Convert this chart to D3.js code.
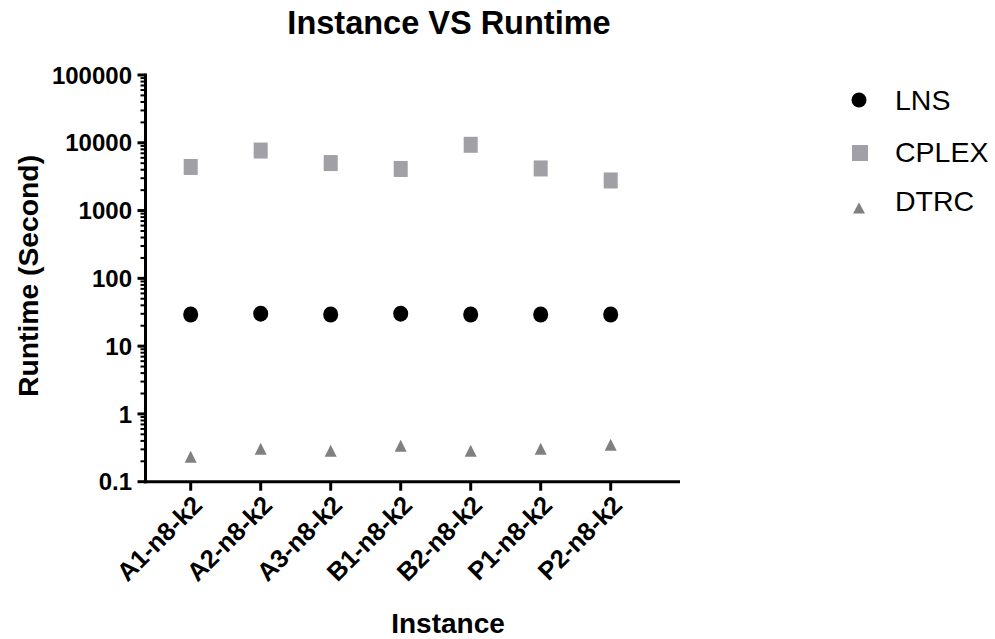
<!DOCTYPE html>
<html>
<head>
<meta charset="utf-8">
<script src="https://cdn.jsdelivr.net/npm/d3@7"></script>
<style>
  html, body { margin: 0; padding: 0; background: #fff; }
  svg { display: block; font-family: "Liberation Sans", Arial, Helvetica, sans-serif; }
</style>
</head>
<body>
<svg id="chart" width="995" height="639"></svg>
<script>
const categories = ["A1-n8-k2", "A2-n8-k2", "A3-n8-k2", "B1-n8-k2", "B2-n8-k2", "P1-n8-k2", "P2-n8-k2"];
const lnsValues = [29.3, 30.1, 29.3, 30.1, 29.3, 29.3, 29.3];
const cplexValues = [4400, 7680, 5020, 4110, 9340, 4180, 2780];
const dtrcValues = [0.234, 0.307, 0.287, 0.34, 0.287, 0.307, 0.35];
const yTickValues = [0.1, 1, 10, 100, 1000, 10000, 100000];
const yTickLabels = ["0.1", "1", "10", "100", "1000", "10000", "100000"];
const seriesNames = ["LNS", "CPLEX", "DTRC"];

const svg = d3.select("#chart");

const axisX0 = 145.5, axisX1 = 680;
const yTop = 75, yBottom = 481.7;

const x = d3.scalePoint().domain(categories).range([190.7, 610.7]);
const y = d3.scaleLog().domain([0.1, 100000]).range([yBottom, yTop]);

const colors = { LNS: "#000000", CPLEX: "#A0A0A6", DTRC: "#808080" };

// Title
svg.append("text")
  .attr("x", 449).attr("y", 34)
  .attr("text-anchor", "middle")
  .attr("font-size", 32.5).attr("font-weight", "bold")
  .text("Instance VS Runtime");

// Y axis line
svg.append("line")
  .attr("x1", axisX0).attr("x2", axisX0)
  .attr("y1", yTop - 1.5).attr("y2", yBottom + 1.5)
  .attr("stroke", "#000").attr("stroke-width", 3);

// Minor ticks
const minor = [];
for (let e = -1; e < 5; e++) {
  for (let m = 2; m <= 9; m++) minor.push(m * Math.pow(10, e));
}
svg.append("g").selectAll("line").data(minor).join("line")
  .attr("x1", axisX0 - 5).attr("x2", axisX0)
  .attr("y1", d => y(d)).attr("y2", d => y(d))
  .attr("stroke", "#000").attr("stroke-width", 2);

// Major ticks
svg.append("g").selectAll("line").data(yTickValues).join("line")
  .attr("x1", axisX0 - 8).attr("x2", axisX0)
  .attr("y1", d => y(d)).attr("y2", d => y(d))
  .attr("stroke", "#000").attr("stroke-width", 3);

svg.append("g").selectAll("text").data(yTickValues).join("text")
  .attr("x", 132).attr("y", d => y(d))
  .attr("dy", "0.36em")
  .attr("text-anchor", "end")
  .attr("font-size", 24).attr("font-weight", "bold")
  .text((d, i) => yTickLabels[i]);

// X axis line
svg.append("line")
  .attr("x1", axisX0 - 1.5).attr("x2", axisX1)
  .attr("y1", yBottom).attr("y2", yBottom)
  .attr("stroke", "#000").attr("stroke-width", 3);

svg.append("g").selectAll("line").data(categories).join("line")
  .attr("x1", d => x(d)).attr("x2", d => x(d))
  .attr("y1", yBottom).attr("y2", yBottom + 9)
  .attr("stroke", "#000").attr("stroke-width", 3);

svg.append("g").selectAll("text").data(categories).join("text")
  .attr("transform", d => `translate(${x(d) + 13},${yBottom + 25}) rotate(-45)`)
  .attr("text-anchor", "end")
  .attr("font-size", 25.5).attr("font-weight", "bold")
  .text(d => d);

// Axis titles
svg.append("text")
  .attr("x", 448).attr("y", 633)
  .attr("text-anchor", "middle")
  .attr("font-size", 28).attr("font-weight", "bold")
  .text("Instance");

svg.append("text")
  .attr("transform", "translate(37.5,276) rotate(-90)")
  .attr("text-anchor", "middle")
  .attr("font-size", 28.3).attr("font-weight", "bold")
  .text("Runtime (Second)");

// Marker shapes
function triPath(cx, cy, w, h) {
  return `M${cx},${cy - h / 2}L${cx + w / 2},${cy + h / 2}L${cx - w / 2},${cy + h / 2}Z`;
}

// CPLEX squares
svg.append("g").selectAll("rect").data(categories).join("rect")
  .attr("x", d => x(d) - 7)
  .attr("y", (d, i) => y(cplexValues[i]) - 8)
  .attr("width", 14).attr("height", 16)
  .attr("fill", colors.CPLEX);

// LNS circles
svg.append("g").selectAll("ellipse").data(categories).join("ellipse")
  .attr("cx", d => x(d))
  .attr("cy", (d, i) => y(lnsValues[i]))
  .attr("rx", 7.5).attr("ry", 8)
  .attr("fill", colors.LNS);

// DTRC triangles
svg.append("g").selectAll("path").data(categories).join("path")
  .attr("d", (d, i) => triPath(x(d), y(dtrcValues[i]), 12, 12))
  .attr("fill", colors.DTRC);

// Legend
const legendY = [100, 153, 208];
const legendTextY = [110, 161.7, 210.7];
const lg = svg.append("g");
lg.append("circle").attr("cx", 859).attr("cy", legendY[0]).attr("r", 7.5).attr("fill", colors.LNS);
lg.append("rect").attr("x", 852).attr("y", legendY[1] - 8).attr("width", 16).attr("height", 16).attr("fill", colors.CPLEX);
lg.append("path").attr("d", triPath(859, legendY[2], 12, 11)).attr("fill", colors.DTRC);
lg.selectAll("text").data(seriesNames).join("text")
  .attr("x", 895).attr("y", (d, i) => legendTextY[i])
  .attr("font-size", 28.5)
  .text(d => d);
</script>
</body>
</html>
